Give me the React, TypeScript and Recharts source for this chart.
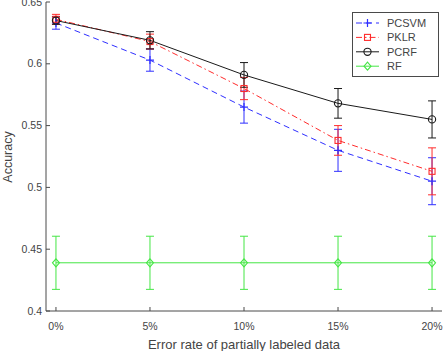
import { ErrorBar, Line, LineChart, XAxis, YAxis } from "recharts";

// error rate of partially labeled data (%)
const errorRates = [0, 5, 10, 15, 20];
const yTicks = [0.4, 0.45, 0.5, 0.55, 0.6, 0.65];

const pcsvm = [0.633, 0.603, 0.565, 0.53, 0.505];
const pcsvmErr = [0.005, 0.009, 0.013, 0.017, 0.019];
const pklr = [0.636, 0.618, 0.58, 0.538, 0.513];
const pklrErr = [0.004, 0.006, 0.009, 0.012, 0.019];
const pcrf = [0.635, 0.619, 0.591, 0.568, 0.555];
const pcrfErr = [0.003, 0.007, 0.01, 0.012, 0.015];
const rf = [0.439, 0.439, 0.439, 0.439, 0.439];
const rfErr = [0.0215, 0.0215, 0.0215, 0.0215, 0.0215];

const data = errorRates.map((x, i) => ({
  x,
  pcsvm: pcsvm[i],
  pcsvmErr: pcsvmErr[i],
  pklr: pklr[i],
  pklrErr: pklrErr[i],
  pcrf: pcrf[i],
  pcrfErr: pcrfErr[i],
  rf: rf[i],
  rfErr: rfErr[i],
}));

const FONT = '"Liberation Sans", Arial, sans-serif';
const TEXT = "#444444";
const AXIS = "#4a4a4a";

const BLUE = "#2f2fff";
const RED = "#ff2b2b";
const BLACK = "#1a1a1a";
const GREEN = "#45e645";

type Marker = "plus" | "square" | "circle" | "diamond";

function markerShape(kind: Marker, cx: number, cy: number, color: string, key?: string) {
  switch (kind) {
    case "plus":
      return (
        <path key={key} d={`M${cx - 4},${cy}H${cx + 4}M${cx},${cy - 4}V${cy + 4}`} stroke={color} strokeWidth={1.2} fill="none" />
      );
    case "square":
      return <rect key={key} x={cx - 3} y={cy - 3} width={6} height={6} stroke={color} strokeWidth={1.1} fill="none" />;
    case "circle":
      return <circle key={key} cx={cx} cy={cy} r={3.6} stroke={color} strokeWidth={1.1} fill="none" />;
    default:
      return (
        <path key={key} d={`M${cx},${cy - 4}L${cx + 3.5},${cy}L${cx},${cy + 4}L${cx - 3.5},${cy}Z`} stroke={color} strokeWidth={1.1} fill="none" />
      );
  }
}

const dotFor = (kind: Marker, color: string) => (props: any) =>
  markerShape(kind, props.cx, props.cy, color, `${kind}-${props.index}`);

const series = [
  { key: "pcsvm", name: "PCSVM", color: BLUE, dash: "6 4", marker: "plus" as Marker },
  { key: "pklr", name: "PKLR", color: RED, dash: "6 3 1.5 3", marker: "square" as Marker },
  { key: "pcrf", name: "PCRF", color: BLACK, dash: undefined, marker: "circle" as Marker },
  { key: "rf", name: "RF", color: GREEN, dash: undefined, marker: "diamond" as Marker },
];

const fmtY = (v: number) => String(Number(v.toFixed(2)));

// tick label on the left, short tick pointing into the plot
const YTick = (props: any) => {
  const { x, payload } = props;
  const y = payload.coordinate;
  return (
    <g>
      <text x={x} y={y} dy="0.35em" textAnchor="end" fill={TEXT} fontSize={10.5} fontFamily={FONT}>
        {fmtY(payload.value)}
      </text>
      <line x1={x + 4} x2={x + 8} y1={y} y2={y} stroke={AXIS} strokeWidth={1} />
    </g>
  );
};

const XTick = (props: any) => {
  const { y, payload } = props;
  const x = payload.coordinate;
  return (
    <g>
      <text x={x} y={y} dy="0.71em" textAnchor="middle" fill={TEXT} fontSize={10.5} fontFamily={FONT}>
        {`${payload.value}%`}
      </text>
      <line x1={x} x2={x} y1={y - 12} y2={y - 16} stroke={AXIS} strokeWidth={1} />
    </g>
  );
};

// legend drawn as a small boxed svg in the upper right corner
const LegendBox = () => (
  <svg width={87} height={65} style={{ display: "block" }}>
    <rect x={0.5} y={0.5} width={86} height={64} fill="#fff" stroke={AXIS} strokeWidth={1} />
    {series.map((s, i) => {
      const cy = 11 + i * 14.4;
      return (
        <g key={s.key}>
          <line x1={4} x2={27} y1={cy} y2={cy} stroke={s.color} strokeWidth={1} strokeDasharray={s.dash} />
          {markerShape(s.marker, 15.5, cy, s.color)}
          <text x={35} y={cy} dy="0.35em" fill={TEXT} fontSize={11} fontFamily={FONT}>
            {s.name}
          </text>
        </g>
      );
    })}
  </svg>
);

export default function App() {
  return (
    <div style={{ position: "absolute", left: 0, top: 0, width: 443, height: 351, background: "#fff" }}>
      <LineChart width={443} height={351} data={data} margin={{ top: 2, right: 1, bottom: 0, left: 0 }}>
        <XAxis
          dataKey="x"
          type="number"
          domain={[-0.53, 20.53]}
          ticks={errorRates}
          tickSize={0}
          tickMargin={12}
          height={40}
          stroke={AXIS}
          tick={<XTick />}
          label={{
            content: () => (
              <text x={244} y={344} dy="0.35em" textAnchor="middle" fill={TEXT} fontSize={13} fontFamily={FONT}>
                Error rate of partially labeled data
              </text>
            ),
          }}
        />
        <YAxis
          type="number"
          domain={[0.4, 0.65]}
          ticks={yTicks}
          tickSize={0}
          tickMargin={4}
          width={46}
          stroke={AXIS}
          tick={<YTick />}
          label={{
            content: () => (
              <text x={8} y={157} dy="0.35em" textAnchor="middle" transform="rotate(-90 8 157)" fill={TEXT} fontSize={12.5} fontFamily={FONT}>
                Accuracy
              </text>
            ),
          }}
        />
        {series.map((s) => (
          <Line
            key={s.key}
            dataKey={s.key}
            name={s.name}
            type="linear"
            stroke={s.color}
            strokeWidth={1}
            strokeDasharray={s.dash}
            dot={dotFor(s.marker, s.color)}
            activeDot={false}
            isAnimationActive={false}
          >
            <ErrorBar dataKey={`${s.key}Err`} width={4} stroke={s.color} strokeWidth={1} direction="y" isAnimationActive={false} />
          </Line>
        ))}
      </LineChart>
      <div style={{ position: "absolute", left: 352, top: 12 }}>
        <LegendBox />
      </div>
    </div>
  );
}
